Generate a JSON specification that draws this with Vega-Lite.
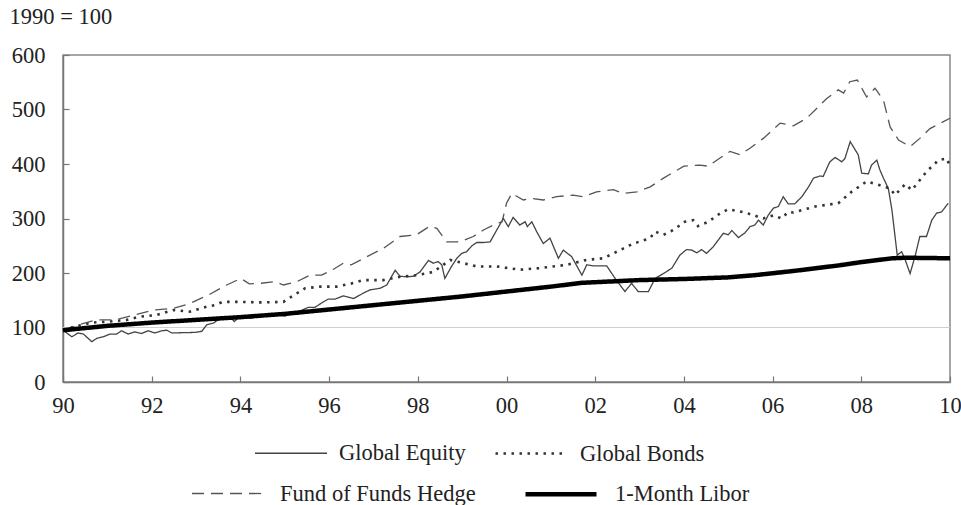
{
  "$schema": "https://vega.github.io/schema/vega-lite/v6.json",
  "autosize": {"type": "none"},
  "width": 887,
  "height": 327,
  "padding": {"left": 63, "top": 55, "right": 11, "bottom": 123},
  "background": "white",
  "config": {
    "font": "Liberation Serif",
    "view": {"stroke": "#888", "strokeWidth": 1.5},
    "axis": {"labelFont": "Liberation Serif", "labelFontSize": 22.5, "labelColor": "#222", "grid": false, "domainColor": "#777", "tickColor": "#777", "domainWidth": 1.5, "tickWidth": 1.2},
    "legend": {"labelFont": "Liberation Serif", "labelFontSize": 22.5, "labelColor": "#222", "labelLimit": 400}
  },
  "data": {"values": [
    {"s":"Global Equity","t":1990.0,"v":95},{"s":"Global Equity","t":1990.2,"v":83},{"s":"Global Equity","t":1990.34,"v":90},{"s":"Global Equity","t":1990.46,"v":88},{"s":"Global Equity","t":1990.65,"v":74},{"s":"Global Equity","t":1990.76,"v":80},{"s":"Global Equity","t":1990.91,"v":83},{"s":"Global Equity","t":1991.06,"v":88},{"s":"Global Equity","t":1991.21,"v":88},{"s":"Global Equity","t":1991.32,"v":94},{"s":"Global Equity","t":1991.47,"v":88},{"s":"Global Equity","t":1991.62,"v":92},{"s":"Global Equity","t":1991.77,"v":89},{"s":"Global Equity","t":1991.92,"v":94},{"s":"Global Equity","t":1992.07,"v":90},{"s":"Global Equity","t":1992.23,"v":94},{"s":"Global Equity","t":1992.34,"v":95},{"s":"Global Equity","t":1992.45,"v":90},{"s":"Global Equity","t":1992.98,"v":91},{"s":"Global Equity","t":1993.13,"v":93},{"s":"Global Equity","t":1993.24,"v":105},{"s":"Global Equity","t":1993.39,"v":108},{"s":"Global Equity","t":1993.5,"v":114},{"s":"Global Equity","t":1993.65,"v":119},{"s":"Global Equity","t":1993.77,"v":120},{"s":"Global Equity","t":1993.86,"v":111},{"s":"Global Equity","t":1993.99,"v":120},{"s":"Global Equity","t":1994.22,"v":117},{"s":"Global Equity","t":1994.4,"v":120},{"s":"Global Equity","t":1994.63,"v":123},{"s":"Global Equity","t":1994.82,"v":123},{"s":"Global Equity","t":1995.01,"v":121},{"s":"Global Equity","t":1995.16,"v":126},{"s":"Global Equity","t":1995.31,"v":129},{"s":"Global Equity","t":1995.53,"v":137},{"s":"Global Equity","t":1995.68,"v":137},{"s":"Global Equity","t":1995.87,"v":147},{"s":"Global Equity","t":1995.98,"v":152},{"s":"Global Equity","t":1996.13,"v":152},{"s":"Global Equity","t":1996.32,"v":158},{"s":"Global Equity","t":1996.55,"v":153},{"s":"Global Equity","t":1996.77,"v":163},{"s":"Global Equity","t":1996.92,"v":169},{"s":"Global Equity","t":1997.15,"v":172},{"s":"Global Equity","t":1997.3,"v":178},{"s":"Global Equity","t":1997.49,"v":205},{"s":"Global Equity","t":1997.6,"v":194},{"s":"Global Equity","t":1997.75,"v":193},{"s":"Global Equity","t":1997.9,"v":194},{"s":"Global Equity","t":1998.05,"v":202},{"s":"Global Equity","t":1998.24,"v":223},{"s":"Global Equity","t":1998.35,"v":218},{"s":"Global Equity","t":1998.46,"v":221},{"s":"Global Equity","t":1998.54,"v":215},{"s":"Global Equity","t":1998.61,"v":190},{"s":"Global Equity","t":1998.76,"v":212},{"s":"Global Equity","t":1998.88,"v":227},{"s":"Global Equity","t":1998.99,"v":236},{"s":"Global Equity","t":1999.1,"v":239},{"s":"Global Equity","t":1999.22,"v":250},{"s":"Global Equity","t":1999.33,"v":256},{"s":"Global Equity","t":1999.48,"v":256},{"s":"Global Equity","t":1999.63,"v":257},{"s":"Global Equity","t":1999.78,"v":279},{"s":"Global Equity","t":1999.93,"v":300},{"s":"Global Equity","t":2000.04,"v":285},{"s":"Global Equity","t":2000.15,"v":302},{"s":"Global Equity","t":2000.3,"v":288},{"s":"Global Equity","t":2000.42,"v":294},{"s":"Global Equity","t":2000.47,"v":285},{"s":"Global Equity","t":2000.57,"v":294},{"s":"Global Equity","t":2000.68,"v":276},{"s":"Global Equity","t":2000.83,"v":254},{"s":"Global Equity","t":2000.98,"v":264},{"s":"Global Equity","t":2001.17,"v":227},{"s":"Global Equity","t":2001.28,"v":242},{"s":"Global Equity","t":2001.47,"v":230},{"s":"Global Equity","t":2001.7,"v":196},{"s":"Global Equity","t":2001.81,"v":215},{"s":"Global Equity","t":2001.96,"v":213},{"s":"Global Equity","t":2002.11,"v":213},{"s":"Global Equity","t":2002.26,"v":213},{"s":"Global Equity","t":2002.45,"v":190},{"s":"Global Equity","t":2002.67,"v":166},{"s":"Global Equity","t":2002.82,"v":181},{"s":"Global Equity","t":2002.97,"v":166},{"s":"Global Equity","t":2003.2,"v":166},{"s":"Global Equity","t":2003.35,"v":190},{"s":"Global Equity","t":2003.54,"v":199},{"s":"Global Equity","t":2003.73,"v":209},{"s":"Global Equity","t":2003.91,"v":233},{"s":"Global Equity","t":2004.06,"v":243},{"s":"Global Equity","t":2004.18,"v":242},{"s":"Global Equity","t":2004.29,"v":237},{"s":"Global Equity","t":2004.4,"v":243},{"s":"Global Equity","t":2004.51,"v":236},{"s":"Global Equity","t":2004.66,"v":248},{"s":"Global Equity","t":2004.78,"v":261},{"s":"Global Equity","t":2004.89,"v":273},{"s":"Global Equity","t":2005.0,"v":270},{"s":"Global Equity","t":2005.08,"v":278},{"s":"Global Equity","t":2005.23,"v":265},{"s":"Global Equity","t":2005.38,"v":274},{"s":"Global Equity","t":2005.49,"v":285},{"s":"Global Equity","t":2005.6,"v":288},{"s":"Global Equity","t":2005.68,"v":297},{"s":"Global Equity","t":2005.79,"v":288},{"s":"Global Equity","t":2005.9,"v":306},{"s":"Global Equity","t":2006.02,"v":319},{"s":"Global Equity","t":2006.13,"v":322},{"s":"Global Equity","t":2006.24,"v":340},{"s":"Global Equity","t":2006.35,"v":327},{"s":"Global Equity","t":2006.5,"v":327},{"s":"Global Equity","t":2006.66,"v":340},{"s":"Global Equity","t":2006.81,"v":358},{"s":"Global Equity","t":2006.92,"v":374},{"s":"Global Equity","t":2007.07,"v":378},{"s":"Global Equity","t":2007.14,"v":377},{"s":"Global Equity","t":2007.29,"v":404},{"s":"Global Equity","t":2007.41,"v":412},{"s":"Global Equity","t":2007.56,"v":404},{"s":"Global Equity","t":2007.63,"v":410},{"s":"Global Equity","t":2007.75,"v":441},{"s":"Global Equity","t":2007.93,"v":417},{"s":"Global Equity","t":2008.01,"v":383},{"s":"Global Equity","t":2008.16,"v":382},{"s":"Global Equity","t":2008.23,"v":398},{"s":"Global Equity","t":2008.35,"v":407},{"s":"Global Equity","t":2008.42,"v":389},{"s":"Global Equity","t":2008.5,"v":374},{"s":"Global Equity","t":2008.61,"v":355},{"s":"Global Equity","t":2008.69,"v":316},{"s":"Global Equity","t":2008.81,"v":233},{"s":"Global Equity","t":2008.91,"v":239},{"s":"Global Equity","t":2008.99,"v":224},{"s":"Global Equity","t":2009.1,"v":199},{"s":"Global Equity","t":2009.21,"v":230},{"s":"Global Equity","t":2009.32,"v":267},{"s":"Global Equity","t":2009.47,"v":267},{"s":"Global Equity","t":2009.59,"v":297},{"s":"Global Equity","t":2009.7,"v":310},{"s":"Global Equity","t":2009.81,"v":312},{"s":"Global Equity","t":2009.96,"v":328},
    {"s":"Global Bonds","t":1990.0,"v":95},{"s":"Global Bonds","t":1990.23,"v":101},{"s":"Global Bonds","t":1990.65,"v":109},{"s":"Global Bonds","t":1991.06,"v":111},{"s":"Global Bonds","t":1991.44,"v":114},{"s":"Global Bonds","t":1991.74,"v":120},{"s":"Global Bonds","t":1992.11,"v":123},{"s":"Global Bonds","t":1992.49,"v":132},{"s":"Global Bonds","t":1992.86,"v":129},{"s":"Global Bonds","t":1993.24,"v":138},{"s":"Global Bonds","t":1993.43,"v":141},{"s":"Global Bonds","t":1993.6,"v":147},{"s":"Global Bonds","t":1994.0,"v":147},{"s":"Global Bonds","t":1994.5,"v":146},{"s":"Global Bonds","t":1994.97,"v":147},{"s":"Global Bonds","t":1995.12,"v":155},{"s":"Global Bonds","t":1995.46,"v":172},{"s":"Global Bonds","t":1995.8,"v":175},{"s":"Global Bonds","t":1996.17,"v":175},{"s":"Global Bonds","t":1996.47,"v":180},{"s":"Global Bonds","t":1996.77,"v":187},{"s":"Global Bonds","t":1997.22,"v":187},{"s":"Global Bonds","t":1997.6,"v":193},{"s":"Global Bonds","t":1997.97,"v":196},{"s":"Global Bonds","t":1998.35,"v":202},{"s":"Global Bonds","t":1998.73,"v":224},{"s":"Global Bonds","t":1999.03,"v":218},{"s":"Global Bonds","t":1999.33,"v":212},{"s":"Global Bonds","t":1999.78,"v":212},{"s":"Global Bonds","t":2000.3,"v":206},{"s":"Global Bonds","t":2000.76,"v":209},{"s":"Global Bonds","t":2001.36,"v":215},{"s":"Global Bonds","t":2001.8,"v":224},{"s":"Global Bonds","t":2002.18,"v":227},{"s":"Global Bonds","t":2002.56,"v":242},{"s":"Global Bonds","t":2002.86,"v":254},{"s":"Global Bonds","t":2003.24,"v":264},{"s":"Global Bonds","t":2003.35,"v":276},{"s":"Global Bonds","t":2003.54,"v":270},{"s":"Global Bonds","t":2003.76,"v":279},{"s":"Global Bonds","t":2004.02,"v":294},{"s":"Global Bonds","t":2004.21,"v":297},{"s":"Global Bonds","t":2004.32,"v":286},{"s":"Global Bonds","t":2004.55,"v":294},{"s":"Global Bonds","t":2004.81,"v":309},{"s":"Global Bonds","t":2005.0,"v":317},{"s":"Global Bonds","t":2005.19,"v":314},{"s":"Global Bonds","t":2005.38,"v":311},{"s":"Global Bonds","t":2005.57,"v":306},{"s":"Global Bonds","t":2005.79,"v":300},{"s":"Global Bonds","t":2006.02,"v":306},{"s":"Global Bonds","t":2006.2,"v":300},{"s":"Global Bonds","t":2006.35,"v":312},{"s":"Global Bonds","t":2006.47,"v":311},{"s":"Global Bonds","t":2006.96,"v":322},{"s":"Global Bonds","t":2007.48,"v":328},{"s":"Global Bonds","t":2007.78,"v":349},{"s":"Global Bonds","t":2008.12,"v":368},{"s":"Global Bonds","t":2008.42,"v":361},{"s":"Global Bonds","t":2008.65,"v":355},{"s":"Global Bonds","t":2008.76,"v":343},{"s":"Global Bonds","t":2008.99,"v":363},{"s":"Global Bonds","t":2009.14,"v":352},{"s":"Global Bonds","t":2009.47,"v":386},{"s":"Global Bonds","t":2009.74,"v":407},{"s":"Global Bonds","t":2009.93,"v":410},{"s":"Global Bonds","t":2010.0,"v":395},
    {"s":"Fund of Funds Hedge","t":1990.0,"v":95},{"s":"Fund of Funds Hedge","t":1990.35,"v":105},{"s":"Fund of Funds Hedge","t":1990.76,"v":114},{"s":"Fund of Funds Hedge","t":1991.17,"v":114},{"s":"Fund of Funds Hedge","t":1991.62,"v":123},{"s":"Fund of Funds Hedge","t":1992.04,"v":132},{"s":"Fund of Funds Hedge","t":1992.49,"v":135},{"s":"Fund of Funds Hedge","t":1992.86,"v":144},{"s":"Fund of Funds Hedge","t":1993.31,"v":161},{"s":"Fund of Funds Hedge","t":1993.69,"v":178},{"s":"Fund of Funds Hedge","t":1994.01,"v":190},{"s":"Fund of Funds Hedge","t":1994.2,"v":180},{"s":"Fund of Funds Hedge","t":1994.44,"v":181},{"s":"Fund of Funds Hedge","t":1994.78,"v":184},{"s":"Fund of Funds Hedge","t":1994.97,"v":178},{"s":"Fund of Funds Hedge","t":1995.27,"v":184},{"s":"Fund of Funds Hedge","t":1995.57,"v":196},{"s":"Fund of Funds Hedge","t":1995.83,"v":196},{"s":"Fund of Funds Hedge","t":1996.1,"v":207},{"s":"Fund of Funds Hedge","t":1996.32,"v":218},{"s":"Fund of Funds Hedge","t":1996.5,"v":215},{"s":"Fund of Funds Hedge","t":1996.85,"v":230},{"s":"Fund of Funds Hedge","t":1997.22,"v":245},{"s":"Fund of Funds Hedge","t":1997.6,"v":267},{"s":"Fund of Funds Hedge","t":1997.97,"v":270},{"s":"Fund of Funds Hedge","t":1998.27,"v":286},{"s":"Fund of Funds Hedge","t":1998.43,"v":282},{"s":"Fund of Funds Hedge","t":1998.65,"v":257},{"s":"Fund of Funds Hedge","t":1998.95,"v":257},{"s":"Fund of Funds Hedge","t":1999.25,"v":267},{"s":"Fund of Funds Hedge","t":1999.48,"v":279},{"s":"Fund of Funds Hedge","t":1999.78,"v":291},{"s":"Fund of Funds Hedge","t":1999.9,"v":294},{"s":"Fund of Funds Hedge","t":2000.0,"v":328},{"s":"Fund of Funds Hedge","t":2000.12,"v":346},{"s":"Fund of Funds Hedge","t":2000.38,"v":334},{"s":"Fund of Funds Hedge","t":2000.55,"v":337},{"s":"Fund of Funds Hedge","t":2000.83,"v":334},{"s":"Fund of Funds Hedge","t":2001.13,"v":340},{"s":"Fund of Funds Hedge","t":2001.5,"v":343},{"s":"Fund of Funds Hedge","t":2001.73,"v":340},{"s":"Fund of Funds Hedge","t":2002.03,"v":349},{"s":"Fund of Funds Hedge","t":2002.41,"v":353},{"s":"Fund of Funds Hedge","t":2002.63,"v":346},{"s":"Fund of Funds Hedge","t":2002.94,"v":349},{"s":"Fund of Funds Hedge","t":2003.24,"v":358},{"s":"Fund of Funds Hedge","t":2003.54,"v":374},{"s":"Fund of Funds Hedge","t":2004.0,"v":396},{"s":"Fund of Funds Hedge","t":2004.36,"v":398},{"s":"Fund of Funds Hedge","t":2004.55,"v":396},{"s":"Fund of Funds Hedge","t":2004.74,"v":407},{"s":"Fund of Funds Hedge","t":2005.04,"v":423},{"s":"Fund of Funds Hedge","t":2005.26,"v":417},{"s":"Fund of Funds Hedge","t":2005.49,"v":429},{"s":"Fund of Funds Hedge","t":2005.79,"v":447},{"s":"Fund of Funds Hedge","t":2006.17,"v":475},{"s":"Fund of Funds Hedge","t":2006.47,"v":470},{"s":"Fund of Funds Hedge","t":2006.77,"v":484},{"s":"Fund of Funds Hedge","t":2007.22,"v":520},{"s":"Fund of Funds Hedge","t":2007.48,"v":536},{"s":"Fund of Funds Hedge","t":2007.6,"v":530},{"s":"Fund of Funds Hedge","t":2007.74,"v":551},{"s":"Fund of Funds Hedge","t":2007.91,"v":554},{"s":"Fund of Funds Hedge","t":2008.12,"v":523},{"s":"Fund of Funds Hedge","t":2008.31,"v":539},{"s":"Fund of Funds Hedge","t":2008.5,"v":517},{"s":"Fund of Funds Hedge","t":2008.65,"v":468},{"s":"Fund of Funds Hedge","t":2008.84,"v":444},{"s":"Fund of Funds Hedge","t":2009.1,"v":432},{"s":"Fund of Funds Hedge","t":2009.32,"v":447},{"s":"Fund of Funds Hedge","t":2009.55,"v":465},{"s":"Fund of Funds Hedge","t":2010.0,"v":484},
    {"s":"1-Month Libor","t":1990.0,"v":95},{"s":"1-Month Libor","t":1991.0,"v":103},{"s":"1-Month Libor","t":1992.0,"v":109},{"s":"1-Month Libor","t":1993.0,"v":114},{"s":"1-Month Libor","t":1994.0,"v":119},{"s":"1-Month Libor","t":1995.0,"v":125},{"s":"1-Month Libor","t":1996.0,"v":133},{"s":"1-Month Libor","t":1997.0,"v":141},{"s":"1-Month Libor","t":1998.0,"v":149},{"s":"1-Month Libor","t":1999.0,"v":157},{"s":"1-Month Libor","t":2000.0,"v":166},{"s":"1-Month Libor","t":2001.0,"v":175},{"s":"1-Month Libor","t":2001.7,"v":182},{"s":"1-Month Libor","t":2002.5,"v":185},{"s":"1-Month Libor","t":2003.0,"v":187},{"s":"1-Month Libor","t":2004.0,"v":189},{"s":"1-Month Libor","t":2005.0,"v":192},{"s":"1-Month Libor","t":2005.6,"v":196},{"s":"1-Month Libor","t":2006.5,"v":204},{"s":"1-Month Libor","t":2007.0,"v":209},{"s":"1-Month Libor","t":2007.5,"v":214},{"s":"1-Month Libor","t":2008.0,"v":220},{"s":"1-Month Libor","t":2008.7,"v":227},{"s":"1-Month Libor","t":2009.0,"v":228},{"s":"1-Month Libor","t":2010.0,"v":227}
  ]},
  "layer": [
    {
      "mark": {"type": "rule", "color": "#cfcfcf", "strokeWidth": 1},
      "encoding": {"y": {"datum": 100, "type": "quantitative"}}
    },
    {
      "transform": [{"filter": {"field": "s", "oneOf": ["Global Equity", "Global Bonds"]}}],
      "mark": {"type": "line", "strokeCap": "butt", "strokeJoin": "miter"},
      "encoding": {
        "x": {"field": "t", "type": "quantitative", "scale": {"domain": [1990, 2010], "nice": false, "zero": false},
              "axis": {"title": null, "values": [1990,1992,1994,1996,1998,2000,2002,2004,2006,2008,2010], "labelExpr": "slice(toString(datum.value), 2)", "tickSize": -6, "labelPadding": 18, "labelFlush": false}},
        "y": {"field": "v", "type": "quantitative", "scale": {"domain": [0, 600], "nice": false},
              "axis": {"title": "1990 = 100", "titleAngle": 0, "titleAlign": "left", "titleBaseline": "alphabetic", "titleX": -54, "titleY": -32, "titleFont": "Liberation Serif", "titleFontSize": 22.5, "titleFontWeight": "normal", "titleColor": "#222", "values": [0,100,200,300,400,500,600], "tickSize": -6, "labelPadding": 24}},
        "color": {"field": "s", "type": "nominal", "title": null,
                  "scale": {"domain": ["Global Equity", "Global Bonds"], "range": ["#444444", "#333333"]},
                  "legend": {"orient": "none", "legendX": 191, "legendY": 361, "direction": "horizontal", "symbolType": "stroke", "symbolSize": 5184, "labelOffset": 11, "columnPadding": 24, "title": null}},
        "strokeDash": {"field": "s", "type": "nominal", "title": null, "scale": {"domain": ["Global Equity", "Global Bonds"], "range": [[1, 0], [2.5, 5.5]]}},
        "strokeWidth": {"field": "s", "type": "nominal", "title": null, "scale": {"domain": ["Global Equity", "Global Bonds"], "range": [1.3, 2.6]}}
      }
    },
    {
      "transform": [{"filter": {"field": "s", "oneOf": ["Fund of Funds Hedge", "1-Month Libor"]}}],
      "mark": {"type": "line", "strokeCap": "butt"},
      "encoding": {
        "x": {"field": "t", "type": "quantitative"},
        "y": {"field": "v", "type": "quantitative"},
        "color": {"field": "s", "type": "nominal", "title": null,
                  "scale": {"domain": ["Fund of Funds Hedge", "1-Month Libor"], "range": ["#555555", "#000000"]},
                  "legend": {"orient": "none", "legendX": 128, "legendY": 401, "direction": "horizontal", "symbolType": "stroke", "symbolSize": 5041, "labelOffset": 16, "columnPadding": 40, "title": null, "labelLimit": 400}},
        "strokeDash": {"field": "s", "type": "nominal", "title": null, "scale": {"domain": ["Fund of Funds Hedge", "1-Month Libor"], "range": [[12, 7], [1, 0]]}},
        "strokeWidth": {"field": "s", "type": "nominal", "title": null, "scale": {"domain": ["Fund of Funds Hedge", "1-Month Libor"], "range": [1.3, 4.5]}}
      }
    }
  ],
  "resolve": {"scale": {"color": "independent", "strokeDash": "independent", "strokeWidth": "independent"}, "legend": {"color": "independent", "strokeDash": "independent", "strokeWidth": "independent"}}
}
